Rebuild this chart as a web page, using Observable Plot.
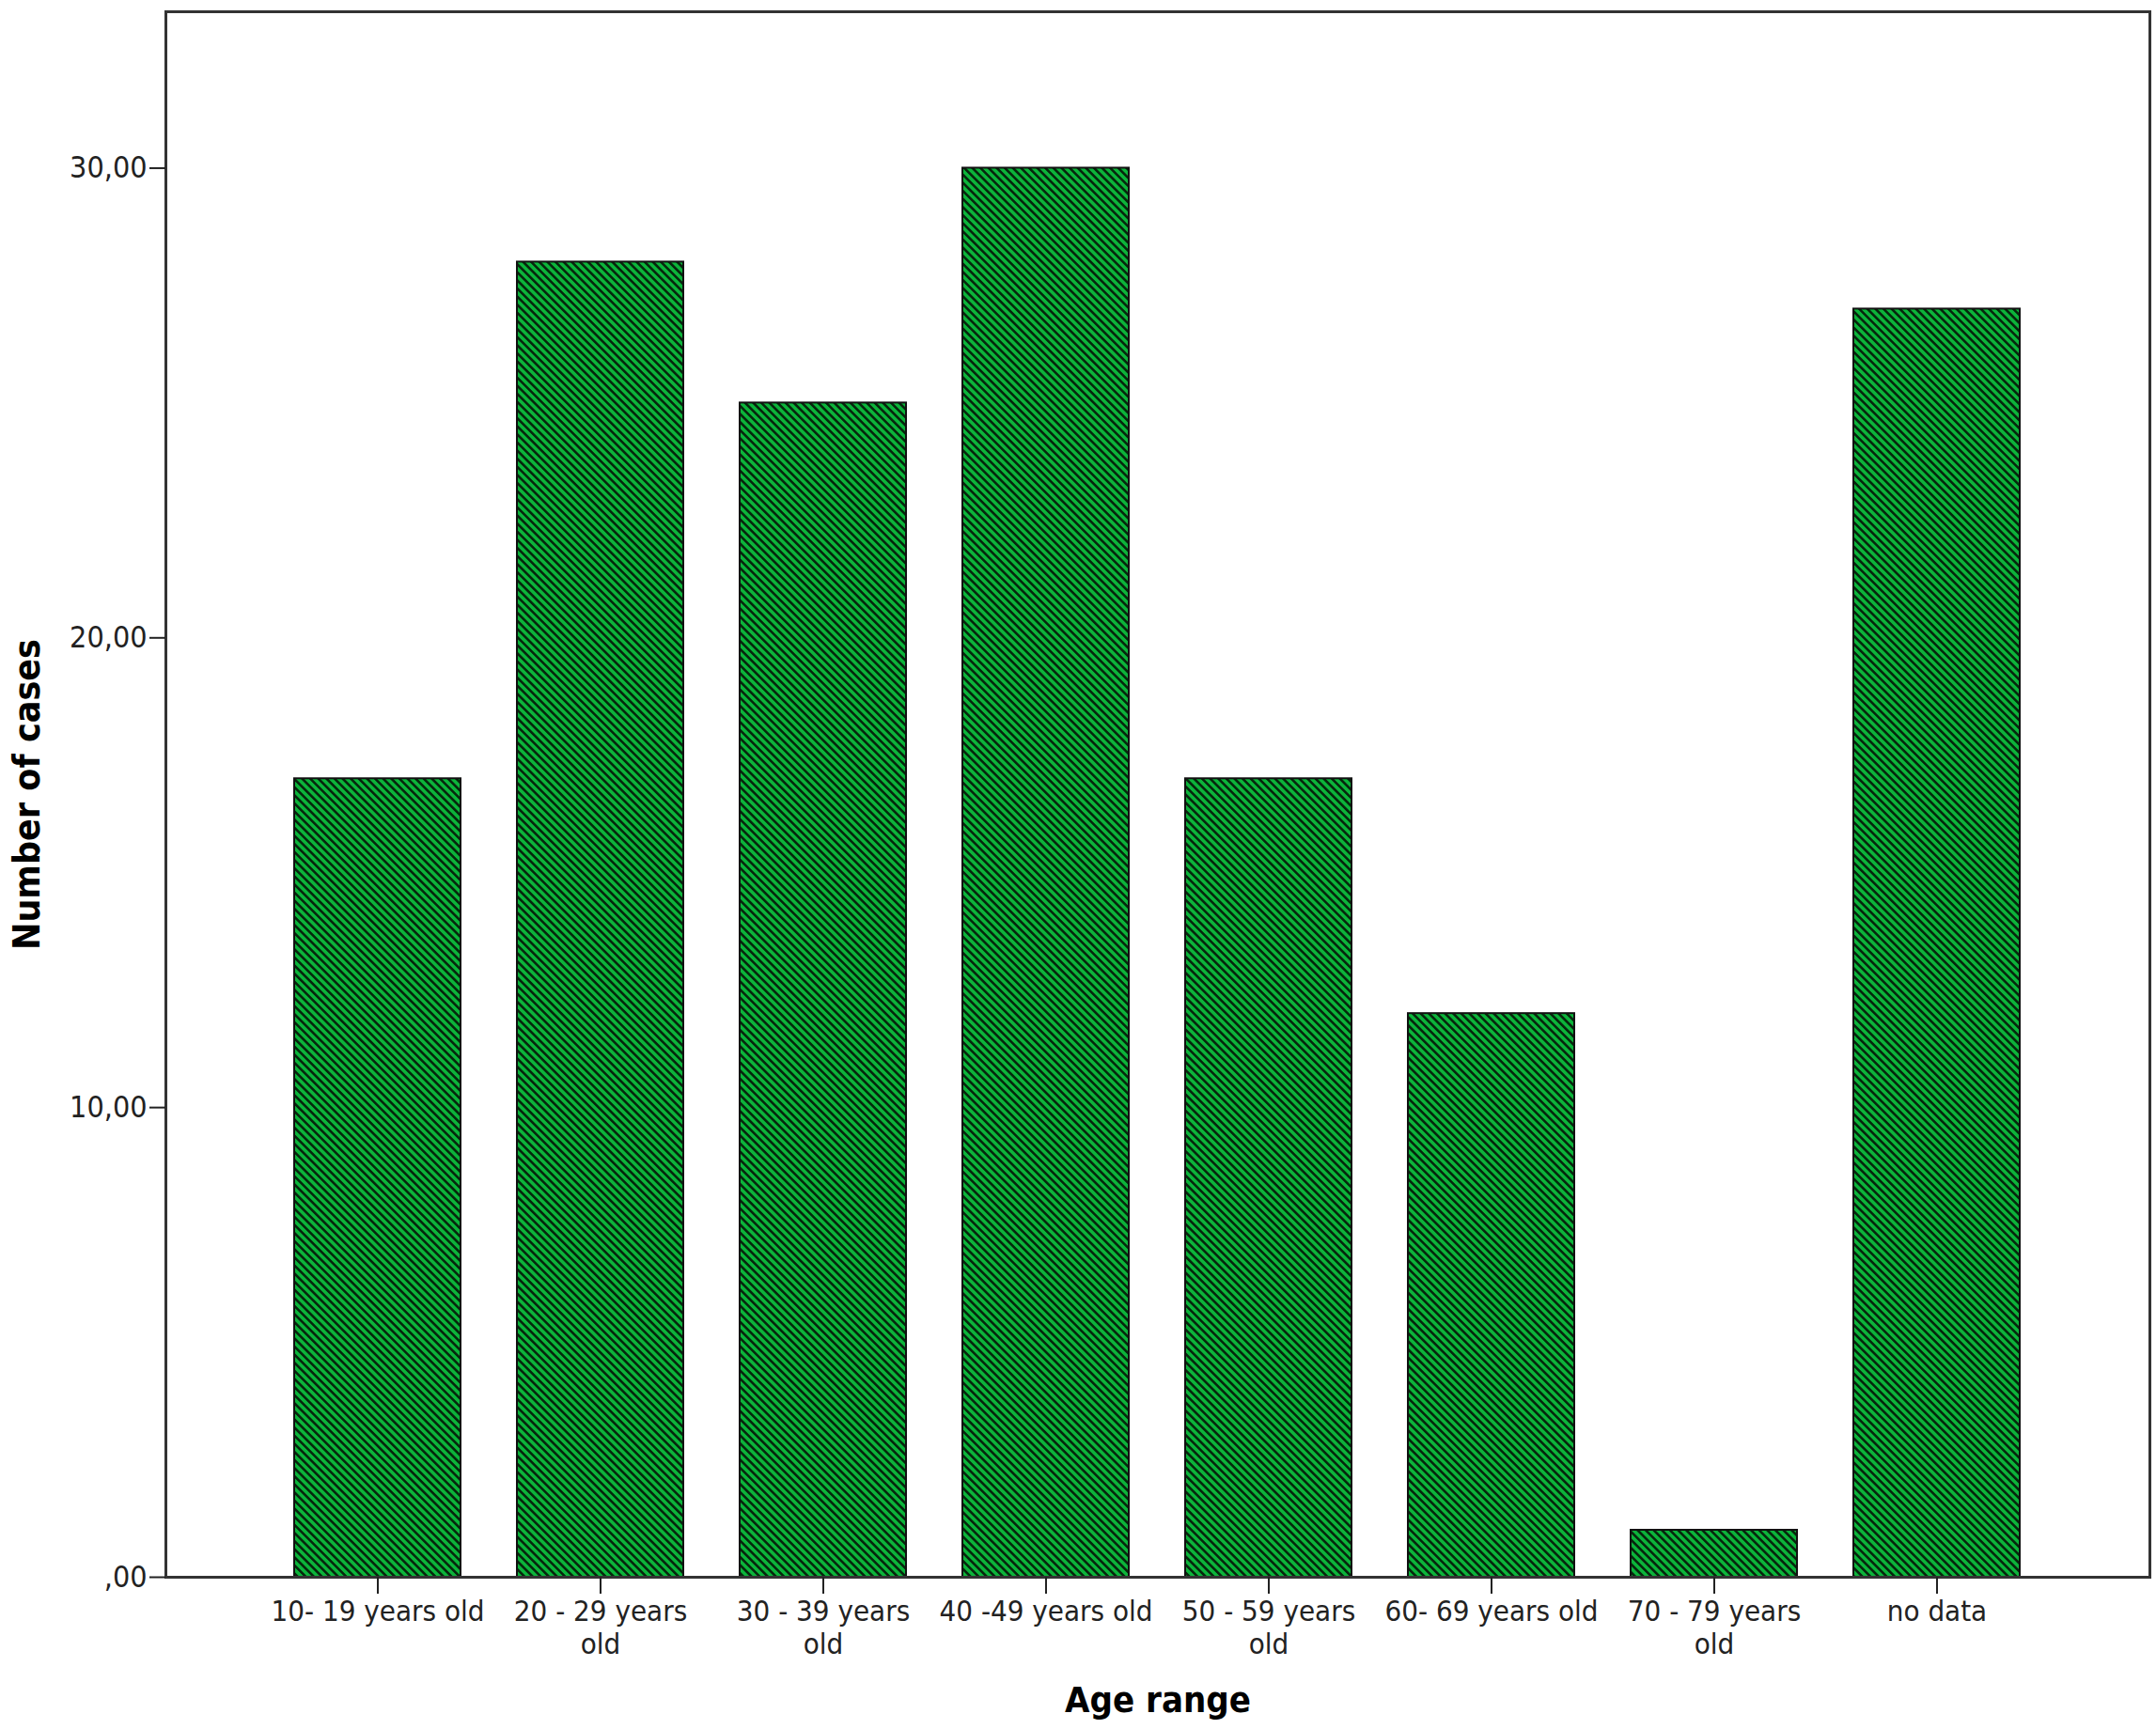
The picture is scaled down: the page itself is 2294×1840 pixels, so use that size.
<!DOCTYPE html>
<html>
<head>
<meta charset="utf-8">
<script src="https://cdn.jsdelivr.net/npm/d3@7"></script>
<script src="https://cdn.jsdelivr.net/npm/@observablehq/plot@0.6"></script>
<style>
  html, body { margin: 0; padding: 0; background: #fff; }
  #chart svg { display: block; }
</style>
</head>
<body>
<div id="chart"></div>
<script>
// ---- data ----
const categories = [
  "10- 19 years old",
  "20 - 29 years\nold",
  "30 - 39 years\nold",
  "40 -49 years old",
  "50 - 59 years\nold",
  "60- 69 years old",
  "70 - 79 years\nold",
  "no data"
];
const counts = [17, 28, 25, 30, 17, 12, 1, 27];
const yTicks = [0, 10, 20, 30];
const yTickLabels = [",00", "10,00", "20,00", "30,00"];
const xTitle = "Age range";
const yTitle = "Number of cases";

const data = categories.map((c, i) => ({age: c, count: counts[i]}));

const FONT = '"DejaVu Sans Condensed", "Liberation Sans Narrow", "DejaVu Sans", sans-serif';

const chart = Plot.plot({
  width: 2294,
  height: 1840,
  marginTop: 12,
  marginBottom: 162,
  marginLeft: 176,
  marginRight: 7,
  style: {fontFamily: FONT, fontSize: "31px", color: "#222", background: "#fff", fontStretch: "condensed"},
  x: {domain: categories, paddingInner: 0.253, paddingOuter: 0.1265, insetLeft: 106, insetRight: 107, label: null},
  y: {domain: [0, 33.33], label: null},
  marks: [
    Plot.barY(data, {x: "age", y: "count", fill: "url(#hatch)", stroke: "#111", strokeWidth: 2}),
    Plot.frame({stroke: "#333", strokeWidth: 3}),
    Plot.axisY({ticks: yTicks, tickFormat: d => yTickLabels[yTicks.indexOf(d)], tickSize: 17, tickPadding: 3, stroke: "#222", strokeWidth: 2, fontSize: 32, label: null}),
    Plot.axisX({tickSize: 18, tickPadding: 4, stroke: "#222", strokeWidth: 2, fontSize: 31, lineHeight: 1.12, label: null}),
    Plot.text([yTitle], {frameAnchor: "left", dx: -147, rotate: -90, textAnchor: "middle", fontSize: 39, fontWeight: "bold", fill: "#000"}),
    Plot.text([xTitle], {frameAnchor: "bottom", dy: 143, fontSize: 38, fontWeight: "bold", fill: "#000"})
  ]
});

// hatch pattern definition
const ns = "http://www.w3.org/2000/svg";
const defs = document.createElementNS(ns, "defs");
const pat = document.createElementNS(ns, "pattern");
const P = 6.1;
pat.setAttribute("id", "hatch");
pat.setAttribute("patternUnits", "userSpaceOnUse");
pat.setAttribute("width", P);
pat.setAttribute("height", P);
pat.setAttribute("patternTransform", "rotate(-45)");
const bg = document.createElementNS(ns, "rect");
bg.setAttribute("width", P); bg.setAttribute("height", P); bg.setAttribute("fill", "#0cb43a");
const st = document.createElementNS(ns, "rect");
st.setAttribute("x", "0"); st.setAttribute("width", "2.6"); st.setAttribute("height", P); st.setAttribute("fill", "#06260d");
pat.appendChild(bg); pat.appendChild(st);
defs.appendChild(pat);
chart.insertBefore(defs, chart.firstChild);

document.getElementById("chart").appendChild(chart);
</script>
</body>
</html>
